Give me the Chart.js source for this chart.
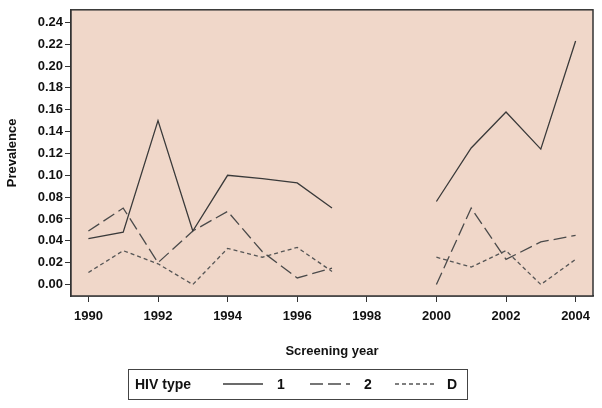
<!DOCTYPE html>
<html>
<head>
<meta charset="utf-8">
<script src="https://cdn.jsdelivr.net/npm/chart.js@4"></script>
<style>
  html, body { margin: 0; padding: 0; background: #fff; }
  #wrap { width: 602px; height: 408px; }
</style>
</head>
<body>
<div id="wrap"><canvas id="hivChart" width="602" height="408"></canvas></div>
<script>
// screening years and prevalence per HIV type (null = not screened)
const years = [1990, 1991, 1992, 1993, 1994, 1995, 1996, 1997, 1998, 1999, 2000, 2001, 2002, 2003, 2004];
const hiv1 = [0.042, 0.048, 0.150, 0.049, 0.100, 0.097, 0.093, 0.070, null, null, 0.076, 0.125, 0.158, 0.124, 0.223];
const hiv2 = [0.049, 0.070, 0.020, 0.049, 0.067, 0.030, 0.006, 0.015, null, null, 0.000, 0.070, 0.023, 0.039, 0.045];
const hivD = [0.011, 0.031, 0.019, 0.000, 0.033, 0.025, 0.034, 0.012, null, null, 0.025, 0.016, 0.031, 0.000, 0.023];
const xTicks = [1990, 1992, 1994, 1996, 1998, 2000, 2002, 2004];
const yTicks = [0, 0.02, 0.04, 0.06, 0.08, 0.10, 0.12, 0.14, 0.16, 0.18, 0.20, 0.22, 0.24];
const legendTitle = 'HIV type';

const FONT = '"Liberation Sans", Arial, sans-serif';

function toPoints(vals) {
    return years.map((yr, i) => ({ x: yr, y: vals[i] }));
}

// peach plot background + frame round the plot area
const frame = {
    id: 'frame',
    beforeDatasetsDraw(chart) {
        const a = chart.chartArea, ctx = chart.ctx;
        ctx.save();
        ctx.fillStyle = '#f0d7c9';
        ctx.fillRect(a.left, a.top, a.right - a.left, a.bottom - a.top);
        ctx.restore();
    },
    afterDatasetsDraw(chart) {
        const a = chart.chartArea, ctx = chart.ctx;
        ctx.save();
        ctx.strokeStyle = '#333';
        ctx.lineWidth = 1.5;
        ctx.strokeRect(a.left, a.top, a.right - a.left, a.bottom - a.top);
        ctx.restore();
    }
};

// boxed legend under the axis title
const boxLegend = {
    id: 'boxLegend',
    afterDraw(chart) {
        const ctx = chart.ctx;
        const bx = 128, by = 369, bw = 339, bh = 30;
        const cy = by + bh / 2 + 1;
        ctx.save();
        ctx.strokeStyle = '#444';
        ctx.lineWidth = 1;
        ctx.strokeRect(bx + 0.5, by + 0.5, bw, bh);
        ctx.fillStyle = '#111';
        ctx.font = 'bold 14px ' + FONT;
        ctx.textBaseline = 'middle';
        ctx.fillText(legendTitle, bx + 7, cy);
        const slots = [223, 310, 395];
        ctx.textAlign = 'center';
        chart.data.datasets.forEach((ds, i) => {
            const x0 = slots[i];
            ctx.strokeStyle = ds.borderColor;
            ctx.lineWidth = ds.borderWidth;
            ctx.setLineDash(ds.borderDash || []);
            ctx.beginPath();
            ctx.moveTo(x0, cy - 1);
            ctx.lineTo(x0 + 40, cy - 1);
            ctx.stroke();
            ctx.setLineDash([]);
            ctx.fillText(ds.label, x0 + (i === 2 ? 57 : 58), cy);
        });
        ctx.restore();
    }
};

const ctx = document.getElementById('hivChart').getContext('2d');
new Chart(ctx, {
    type: 'line',
    data: {
        datasets: [
            { label: '1', data: toPoints(hiv1), borderColor: '#3a3a3a', borderWidth: 1.3, borderDash: [] },
            { label: '2', data: toPoints(hiv2), borderColor: '#4a4a4a', borderWidth: 1.3, borderDash: [13, 5] },
            { label: 'D', data: toPoints(hivD), borderColor: '#555', borderWidth: 1.3, borderDash: [4, 3] }
        ]
    },
    options: {
        responsive: false,
        animation: false,
        spanGaps: false,
        pointRadius: 0,
        tension: 0,
        layout: { padding: { left: 0, right: 9, top: 7, bottom: 46 } },
        plugins: {
            legend: { display: false },
            tooltip: { enabled: false }
        },
        scales: {
            x: {
                type: 'linear',
                min: 1989.5,
                max: 2004.5,
                afterBuildTicks: s => { s.ticks = xTicks.map(v => ({ value: v })); },
                afterFit: s => { s.height = 66; },
                grid: { drawOnChartArea: false, drawTicks: true, tickLength: 6, color: '#333' },
                border: { display: true, color: '#333', width: 1.5 },
                ticks: {
                    color: '#111',
                    font: { family: FONT, size: 13, weight: 'bold' },
                    padding: 7,
                    maxRotation: 0,
                    callback: v => String(v)
                },
                title: {
                    display: true,
                    text: 'Screening year',
                    color: '#111',
                    font: { family: FONT, size: 13, weight: 'bold' },
                    padding: { top: 6, bottom: 3 }
                }
            },
            y: {
                min: -0.0105,
                max: 0.2515,
                afterBuildTicks: s => { s.ticks = yTicks.map(v => ({ value: v })); },
                afterFit: s => { s.width = 71; },
                grid: { drawOnChartArea: false, drawTicks: true, tickLength: 6, color: '#333' },
                border: { display: true, color: '#333', width: 1.5 },
                ticks: {
                    color: '#111',
                    font: { family: FONT, size: 13, weight: 'bold' },
                    padding: 2,
                    callback: v => v.toFixed(2)
                },
                title: {
                    display: true,
                    text: 'Prevalence',
                    color: '#111',
                    font: { family: FONT, size: 13, weight: 'bold' },
                    padding: { top: 5, bottom: 6 }
                }
            }
        }
    },
    plugins: [frame, boxLegend]
});
</script>
</body>
</html>
